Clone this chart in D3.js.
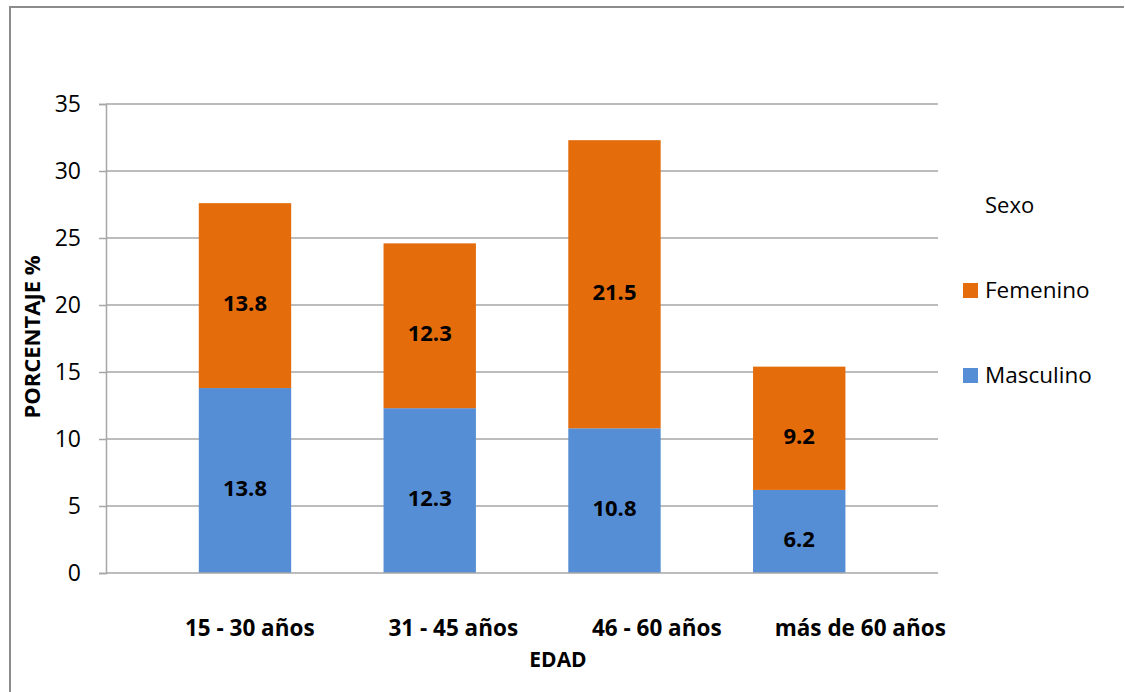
<!DOCTYPE html>
<html>
<head>
<meta charset="utf-8">
<script src="https://cdn.jsdelivr.net/npm/d3@7"></script>
<style>
  html, body { margin: 0; padding: 0; background: #fff; }
  svg { display: block; font-family: "Open Sans", sans-serif; }
</style>
</head>
<body>
<svg id="chart" width="1125" height="692"></svg>
<script>
// Age groups and the share of each sex within them (%)
const categories = ["15 - 30 años", "31 - 45 años", "46 - 60 años", "más de 60 años"];
const masculino = [13.8, 12.3, 10.8, 6.2];
const femenino = [13.8, 12.3, 21.5, 9.2];
const seriesNames = ["Masculino", "Femenino"];
const yTicks = [0, 5, 10, 15, 20, 25, 30, 35];

const colors = { Masculino: "#558ED5", Femenino: "#E46C0A" };
const fontFamily = '"Open Sans", sans-serif';

const svg = d3.select("#chart");

// outer frame
svg.append("path")
  .attr("d", "M10,700 V7 H1124")
  .attr("fill", "none")
  .attr("stroke", "#8c8c8c")
  .attr("stroke-width", 2);

const plot = { left: 106, right: 938, top: 104, bottom: 573 };

const y = d3.scaleLinear().domain([0, 35]).range([plot.bottom, plot.top]);
const x = d3.scaleBand().domain(categories).range([152.6, 891.6])
  .paddingInner(0.5).paddingOuter(0.25);
// category labels sit on their own, wider spacing
const xLabel = d3.scaleBand().domain(categories).range([148, 962]);

const rows = categories.map((c, i) => ({ cat: c, Masculino: masculino[i], Femenino: femenino[i] }));
const stacked = d3.stack().keys(seriesNames)(rows);

// gridlines
svg.append("g")
  .selectAll("line")
  .data(yTicks.filter(t => t > 0))
  .join("line")
  .attr("x1", plot.left).attr("x2", plot.right)
  .attr("y1", d => y(d)).attr("y2", d => y(d))
  .attr("stroke", "#a6a6a6")
  .attr("stroke-width", 1.5);

// y axis
const yAxis = svg.append("g")
  .attr("transform", `translate(${plot.left},0)`)
  .call(d3.axisLeft(y).tickValues(yTicks).tickSize(7).tickPadding(18));
yAxis.select(".domain").attr("stroke", "#a6a6a6").attr("stroke-width", 1.5);
yAxis.selectAll(".tick line").attr("stroke", "#a6a6a6").attr("stroke-width", 1.5);
yAxis.selectAll(".tick text")
  .attr("fill", "#000")
  .style("font-size", "23px")
  .style("font-family", fontFamily);

// bars
const layers = svg.append("g")
  .selectAll("g")
  .data(stacked)
  .join("g")
  .attr("fill", d => colors[d.key]);

layers.selectAll("rect")
  .data(d => d)
  .join("rect")
  .attr("x", d => x(d.data.cat))
  .attr("width", x.bandwidth())
  .attr("y", d => y(d[1]))
  .attr("height", d => y(d[0]) - y(d[1]));

// x axis baseline
svg.append("line")
  .attr("x1", plot.left).attr("x2", plot.right)
  .attr("y1", y(0)).attr("y2", y(0))
  .attr("stroke", "#a6a6a6")
  .attr("stroke-width", 1.5);

// value labels
const labels = svg.append("g");
stacked.forEach(layer => {
  labels.selectAll(null)
    .data(layer)
    .join("text")
    .attr("x", d => x(d.data.cat) + x.bandwidth() / 2)
    .attr("y", d => (y(d[0]) + y(d[1])) / 2)
    .attr("dy", "0.7em")
    .attr("text-anchor", "middle")
    .style("font-weight", "bold")
    .style("font-size", "22px")
    .text(d => (d[1] - d[0]).toFixed(1));
});

// category labels
svg.append("g")
  .selectAll("text")
  .data(categories)
  .join("text")
  .attr("x", d => xLabel(d) + xLabel.bandwidth() / 2)
  .attr("y", 636)
  .attr("text-anchor", "middle")
  .style("font-weight", "bold")
  .style("font-size", "22.5px")
  .text(d => d);

// axis titles
svg.append("text")
  .attr("x", 558).attr("y", 667)
  .attr("text-anchor", "middle")
  .style("font-weight", "bold")
  .style("font-size", "21px")
  .text("EDAD");

svg.append("text")
  .attr("transform", "translate(40,337) rotate(-90)")
  .attr("text-anchor", "middle")
  .style("font-weight", "bold")
  .style("font-size", "22px")
  .text("PORCENTAJE %");

// legend
const legend = svg.append("g");
legend.append("text")
  .attr("x", 985).attr("y", 213)
  .style("font-size", "22px")
  .text("Sexo");

const legendItems = ["Femenino", "Masculino"];
const legendY = d3.scalePoint().domain(legendItems).range([298, 383]);
const li = legend.selectAll("g.item")
  .data(legendItems)
  .join("g")
  .attr("class", "item")
  .attr("transform", d => `translate(963,${legendY(d)})`);
li.append("rect")
  .attr("x", 0).attr("y", -15)
  .attr("width", 15).attr("height", 15)
  .attr("fill", d => colors[d]);
li.append("text")
  .attr("x", 22).attr("y", 0)
  .style("font-size", "22.5px")
  .text(d => d);
</script>
</body>
</html>
